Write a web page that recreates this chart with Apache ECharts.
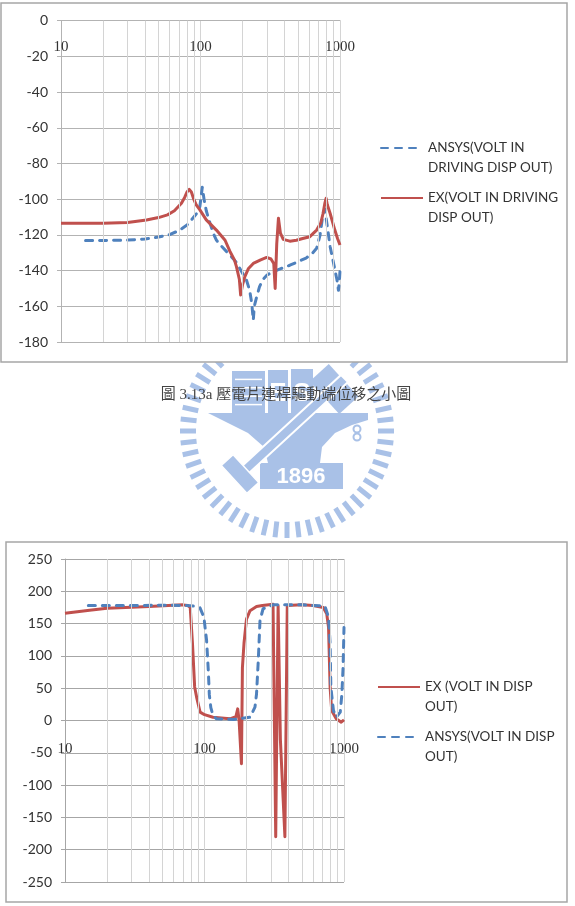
<!DOCTYPE html>
<html>
<head>
<meta charset="utf-8">
<script src="https://cdn.jsdelivr.net/npm/echarts@6/dist/echarts.min.js"></script>
<style>
  html, body { margin: 0; padding: 0; background: #fff; }
  #chart { width: 575px; height: 906px; }
</style>
</head>
<body>
<div id="chart"></div>
<script>
// ---- top chart: displacement magnitude (dB) ----
const magAnsysFreq = [15, 20, 30, 40, 50, 60, 70, 80, 88, 95, 99, 103, 106, 110, 117, 125, 130, 140, 154, 170, 181, 195, 213, 225, 233, 239, 243, 253, 265, 280, 300, 331, 380, 437, 500, 571, 630, 680, 720, 756, 780, 800, 850, 900, 950, 975, 990, 1000];
const magAnsysVal  = [-123.2, -123.1, -122.9, -122.3, -121.2, -119.8, -117.6, -114.5, -110.7, -107.5, -104, -93.3, -100, -106.5, -113.5, -120, -122.9, -126, -129.4, -133, -135.5, -140, -145, -151, -158.3, -167.7, -160, -154.6, -149, -145, -142.5, -140.6, -138.8, -137, -135, -133, -130.5, -127.5, -120, -108, -105.5, -112, -126.6, -136, -145, -151, -146, -139.7];

const magExFreq = [10, 20, 30, 41, 50, 58, 65, 73, 77, 80, 83, 86, 89, 93, 99, 110, 130, 150, 162, 175, 181, 190, 194, 200, 208, 220, 239, 270, 298, 320, 335, 343, 352, 362, 374, 392, 437, 487, 540, 608, 680, 730, 756, 780, 795, 810, 850, 916, 960, 1000];
const magExVal  = [-113.5, -113.5, -113, -111.6, -110.3, -108.8, -106.5, -102.3, -99, -96, -94.5, -96, -99.5, -103, -106, -111.6, -117.3, -123, -129, -134, -137.8, -145, -153.7, -148, -143.4, -139, -136, -134, -132.6, -133.5, -136, -150, -125, -110.7, -119, -122.5, -123.5, -123, -122, -121, -117.3, -113, -108, -102, -99.5, -103, -108, -117, -122, -125.7];

// ---- bottom chart: phase (deg) ----
const phExFreq = [10, 15, 20, 30, 40, 55, 70, 76, 79, 82, 85, 88, 93, 100, 115, 152, 168, 173, 177, 184, 187, 192, 200, 212, 236, 260, 310, 320, 324, 331, 337, 343, 350, 377, 386, 392, 400, 500, 600, 710, 752, 775, 795, 816, 880, 955, 1000];
const phExVal  = [166, 170.5, 173.8, 175.5, 176.5, 178, 179, 178, 175, 119, 52, 35, 13, 9, 5, 2.6, 6, 18, 0, -67, 82, 120, 157, 170, 176.5, 178, 180, 180, -180, -180, 178, 178, -30, -180, -180, 178, 180, 179, 178, 175, 165, 144, 51.6, 15.5, 2.6, -2.6, 1];

const phAnsysFreq = [14.7, 30, 50, 74.5, 85, 92.8, 99, 103.5, 106.5, 108.3, 111, 115, 122, 161, 212, 230, 236, 243, 250, 263, 310, 500, 730, 775, 795, 805, 840, 880, 940, 965, 985, 1000];
const phAnsysVal  = [178, 178, 178.5, 178, 177, 174.4, 160, 124, 77, 40, 20, 8, 2.6, 1.5, 5, 20.6, 41, 93, 155, 173, 179, 179, 177, 160, 119, 51.6, 15.5, 5, 13, 40, 82.5, 144];

// minor vertical grid lines of the log axis
const minorFreqs = [20, 30, 40, 50, 60, 70, 80, 90, 200, 300, 400, 500, 600, 700, 800, 900];

// legend text, broken over two lines like the original
const legendLines = {
  'ANSYS(VOLT IN DRIVING DISP OUT)': 'ANSYS(VOLT IN\nDRIVING DISP OUT)',
  'EX(VOLT IN DRIVING DISP OUT)': 'EX(VOLT IN DRIVING\nDISP OUT)',
  'EX (VOLT IN DISP OUT)': 'EX (VOLT IN DISP\nOUT)',
  'ANSYS(VOLT IN DISP OUT)': 'ANSYS(VOLT IN DISP\nOUT)'
};

const RED = '#c0504d';
const BLUE = '#4f81bd';
const zip = (f, v) => f.map((x, i) => [x, v[i]]);

// watermark (university emblem) behind the two chart boxes
const wmColor = '#a9c1e7';
const wm = [];
const cx = 287, cy = 431, rIn = 91, rOut = 107;
for (let i = 0; i < 56; i++) {
  const a = (i / 56) * Math.PI * 2;
  wm.push({
    type: 'line', z: -2, silent: true,
    shape: { x1: cx + rIn * Math.cos(a), y1: cy + rIn * Math.sin(a), x2: cx + rOut * Math.cos(a), y2: cy + rOut * Math.sin(a) },
    style: { stroke: wmColor, lineWidth: 5 }
  });
}
wm.push({ type: 'rect', z: -2, shape: { x: 232, y: 371, width: 33, height: 42 }, style: { fill: wmColor } });
for (let k = 1; k < 5; k++) {
  wm.push({ type: 'line', z: -2, shape: { x1: 235, y1: 371 + k * 8.4, x2: 262, y2: 371 + k * 8.4 }, style: { stroke: '#fff', lineWidth: 1.5 } });
}
wm.push({ type: 'rect', z: -2, shape: { x: 268, y: 370, width: 20, height: 43 }, style: { fill: wmColor } });
wm.push({ type: 'rect', z: -2, shape: { x: 291, y: 369, width: 22, height: 44 }, style: { fill: wmColor } });
wm.push({ type: 'text', z: -2, style: { text: 'E', x: 278, y: 394, fill: '#fff', font: 'bold 26px "Liberation Sans"', align: 'center', verticalAlign: 'middle' } });
wm.push({ type: 'text', z: -2, style: { text: 'S', x: 302, y: 394, fill: '#fff', font: 'bold 26px "Liberation Sans"', align: 'center', verticalAlign: 'middle' } });
wm.push({ type: 'rect', z: -2, x: 334, y: 389, rotation: 0.74, shape: { x: -13, y: -22, width: 26, height: 44 }, style: { fill: wmColor } });
wm.push({ type: 'polygon', z: -2, shape: { points: [[208, 413], [368, 413], [368, 420], [352, 425], [335, 433], [322, 447], [320, 463], [268, 463], [264, 447], [248, 433], [226, 422]] }, style: { fill: wmColor } });
wm.push({ type: 'rect', z: -2, shape: { x: 260, y: 463, width: 83, height: 26 }, style: { fill: wmColor } });
wm.push({ type: 'text', z: -2, style: { text: '1896', x: 301, y: 477, fill: '#fff', font: 'bold 22px "Liberation Sans"', align: 'center', verticalAlign: 'middle' } });
wm.push({ type: 'circle', z: -2, shape: { cx: 357, cy: 429, r: 3.5 }, style: { fill: 'none', stroke: wmColor, lineWidth: 2 } });
wm.push({ type: 'circle', z: -2, shape: { cx: 357, cy: 437, r: 3.5 }, style: { fill: 'none', stroke: wmColor, lineWidth: 2 } });
wm.push({ type: 'polygon', z: -2, shape: { points: [[248, 474], [348, 382], [341, 375], [241, 467]] }, style: { fill: wmColor, stroke: '#fff', lineWidth: 2 } });
wm.push({ type: 'rect', z: -2, x: 240, y: 474, rotation: 0.74, shape: { x: -8, y: -19, width: 16, height: 38 }, style: { fill: wmColor, stroke: '#fff', lineWidth: 1.5 } });

const boxes = [
  { type: 'rect', z: -1, silent: true, shape: { x: 1, y: 3, width: 566, height: 359 }, style: { fill: '#fff', stroke: '#a6a6a6', lineWidth: 1.5 } },
  { type: 'rect', z: -1, silent: true, shape: { x: 6, y: 542, width: 561, height: 360 }, style: { fill: '#fff', stroke: '#a6a6a6', lineWidth: 1.5 } },
  { type: 'text', z: 5, style: { text: '圖 3.13a 壓電片連桿驅動端位移之小圖', x: 286, y: 395, fill: '#444', font: '15px "Liberation Serif", "Noto Sans CJK TC"', align: 'center', verticalAlign: 'middle' } }
];

// x axis sits on the y = 0 line: pull it up from the grid bottom with a negative offset
const xAxisBase = (gi, lineColor, offset, margin) => ({
  type: 'log', logBase: 10, min: 10, max: 1000, gridIndex: gi,
  position: 'bottom', offset: offset,
  axisLine: { show: true, onZero: false, lineStyle: { color: lineColor } },
  axisTick: { show: false },
  axisLabel: { fontFamily: 'Liberation Serif', fontSize: 15, color: '#333', margin: margin, formatter: v => String(v) },
  splitLine: { show: true, lineStyle: { color: '#d4d4d4' } }
});
const yAxisBase = (gi, min, max, interval, lineColor) => ({
  type: 'value', min: min, max: max, interval: interval, gridIndex: gi,
  axisLine: { show: true, lineStyle: { color: lineColor } },
  axisTick: { show: true, length: 4, lineStyle: { color: lineColor } },
  axisLabel: { fontFamily: 'Lato', fontSize: 14, color: '#333', margin: 13 },
  splitLine: { show: true, lineStyle: { color: lineColor } }
});
const minorGrid = (gi) => ({
  type: 'line', xAxisIndex: gi, yAxisIndex: gi, data: [], z: 1, silent: true,
  markLine: {
    silent: true, symbol: 'none', animation: false,
    label: { show: false },
    lineStyle: { color: '#d4d4d4', type: 'solid', width: 1 },
    data: minorFreqs.map(f => ({ xAxis: f }))
  }
});
const curve = (name, gi, data, color, dashed) => ({
  name: name, type: 'line', xAxisIndex: gi, yAxisIndex: gi, data: data,
  symbol: 'none', smooth: false, z: 3,
  lineStyle: { color: color, width: 3, type: dashed ? [7, 7] : 'solid', cap: dashed ? 'round' : 'butt', join: 'round' },
  itemStyle: { color: color }
});
// leading empty line puts the first text line level with the legend line
const legendAt = (name, left, top) => ({
  data: [name], left: left, top: top, padding: 0, orient: 'vertical',
  itemWidth: 42, itemHeight: 14, selectedMode: false,
  itemStyle: { opacity: 0 },
  formatter: n => '\n' + legendLines[n],
  textStyle: { fontFamily: 'Lato', fontSize: 13.5, color: '#333', lineHeight: 20 }
});

const chart = echarts.init(document.getElementById('chart'), null, { renderer: 'canvas' });
chart.setOption({
  animation: false,
  backgroundColor: '#fff',
  graphic: { elements: wm.concat(boxes) },
  grid: [
    { left: 61, top: 20.7, width: 279, height: 321.3 },
    { left: 65, top: 559, width: 279, height: 323 }
  ],
  xAxis: [xAxisBase(0, '#b3b3b3', -321.3, 19), xAxisBase(1, '#a6a6a6', -161.5, 21)],
  yAxis: [yAxisBase(0, -180, 0, 20, '#b3b3b3'), yAxisBase(1, -250, 250, 50, '#a6a6a6')],
  legend: [
    legendAt('ANSYS(VOLT IN DRIVING DISP OUT)', 380, 118),
    legendAt('EX(VOLT IN DRIVING DISP OUT)', 380, 168),
    legendAt('EX (VOLT IN DISP OUT)', 377, 657),
    legendAt('ANSYS(VOLT IN DISP OUT)', 377, 707)
  ],
  series: [
    minorGrid(0),
    minorGrid(1),
    curve('ANSYS(VOLT IN DRIVING DISP OUT)', 0, zip(magAnsysFreq, magAnsysVal), BLUE, true),
    curve('EX(VOLT IN DRIVING DISP OUT)', 0, zip(magExFreq, magExVal), RED, false),
    curve('EX (VOLT IN DISP OUT)', 1, zip(phExFreq, phExVal), RED, false),
    curve('ANSYS(VOLT IN DISP OUT)', 1, zip(phAnsysFreq, phAnsysVal), BLUE, true)
  ]
});
</script>
</body>
</html>
